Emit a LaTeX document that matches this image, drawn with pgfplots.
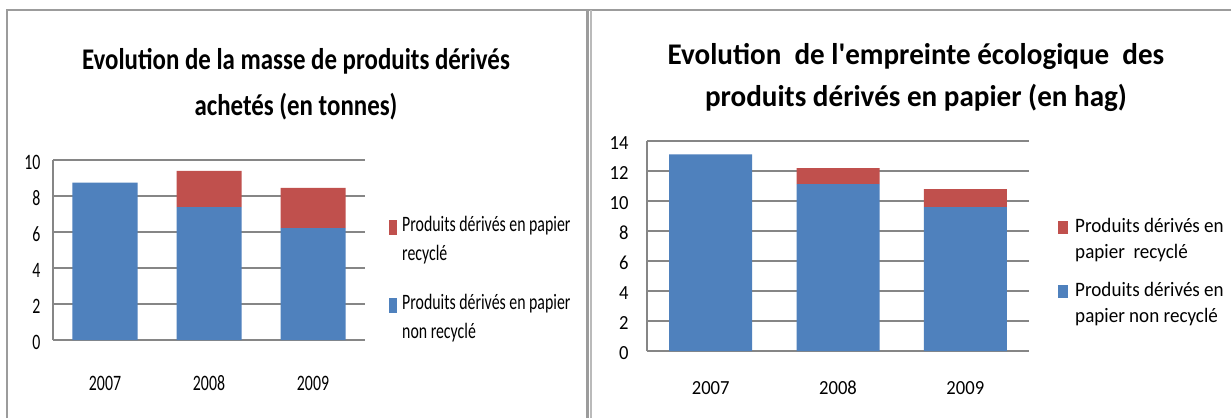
\documentclass[border=0pt]{standalone}
\usepackage{pgfplots}
\usepackage{pgfplotstable}
\pgfplotsset{compat=1.18}
\usepackage{fontspec}
\setmainfont{Carlito}
\newfontfamily\Lfont[FakeStretch=0.72]{Carlito}
\newfontfamily\Rfont[FakeStretch=0.93]{Carlito}
\newfontfamily\LTfont[FakeStretch=0.83]{Carlito}
\newfontfamily\RTfont[FakeStretch=0.97]{Carlito}
\definecolor{bblue}{HTML}{4F81BD}
\definecolor{bred}{HTML}{C0504D}
\definecolor{gridc}{HTML}{868686}
\definecolor{framec}{HTML}{9C9C9C}

\pgfplotstableread{
x nr r
0 8.75 0
1 7.38 2.01
2 6.22 2.23
}\masse
\pgfplotstableread{
x nr r
0 13.10 0
1 11.13 1.06
2 9.60 1.20
}\empreinte

\pgfplotsset{
  panel/.style={
    scale only axis,
    ybar stacked,
    ymin=0, xmin=-0.5, xmax=2.5,
    xtick={0,1,2}, xticklabels={2007,2008,2009},
    ytick distance=2,
    axis lines=left,
    axis line style={-, draw=gridc, line width=2.4pt},
    ymajorgrids, grid style={draw=gridc, line width=2.4pt},
    major tick length=0pt,
    /pgf/number format/assume math mode=true,
    xticklabel style={anchor=center},
    yticklabel style={anchor=east, yshift=-2pt},
    legend cell align=left,
    legend style={draw=none, fill=none, inner sep=0pt, anchor=north west,
      cells={align=left, anchor=west}},
  },
}

\begin{document}
\begin{tikzpicture}[x=1pt,y=1pt]
\path[use as bounding box, fill=white] (0,0) rectangle (1231,418);
% frames
\draw[framec, line width=2pt] (7,0) -- (7,408) -- (1231,408);
\draw[framec, line width=3pt] (587,0) -- (587,408);
\draw[framec!70, line width=1.5pt] (591,0) -- (591,408);

% titles
\node[anchor=base, font=\LTfont\bfseries\fontsize{30}{36}\selectfont, inner sep=0pt] at (296,348) {Evolution de la masse de produits dérivés};
\node[anchor=base, font=\LTfont\bfseries\fontsize{30}{36}\selectfont, inner sep=0pt] at (296,302) {achetés (en tonnes)};
\node[anchor=base, font=\RTfont\bfseries\fontsize{30}{36}\selectfont, inner sep=0pt] at (916,353) {Evolution \ de l'empreinte écologique \ des};
\node[anchor=base, font=\RTfont\bfseries\fontsize{30}{36}\selectfont, inner sep=0pt] at (916,311) {produits dérivés en papier (en hag)};

\begin{axis}[panel,
  at={(53pt,78pt)}, anchor=south west,
  width=312pt, height=180pt, ymax=10,
  bar width=65pt,
  tick label style={font=\Lfont\fontsize{22}{26}\selectfont},
  xticklabel style={yshift=-43pt},
  yticklabel style={xshift=-9pt},
  reverse legend,
  legend image code/.code={\path[fill,draw=none] (0pt,4pt) rectangle (8pt,19pt);},
  legend style={at={(1.077,0.70)}, font=\Lfont\fontsize{22}{29}\selectfont, row sep=28pt, column sep=3pt},
]
\addplot+[fill=bblue, draw=none] table[x=x, y=nr] {\masse};
\addplot+[fill=bred, draw=none] table[x=x, y=r] {\masse};
\legend{Produits dérivés en papier\\non recyclé, Produits dérivés en papier\\recyclé}
\end{axis}

\begin{axis}[panel,
  at={(647pt,67pt)}, anchor=south west,
  width=382pt, height=210pt, ymax=14,
  bar width=83pt,
  tick label style={font=\Rfont\fontsize{20}{24}\selectfont},
  xticklabel style={yshift=-37pt},
  yticklabel style={xshift=-15pt},
  reverse legend,
  legend image code/.code={\path[fill,draw=none] (0pt,5pt) rectangle (10pt,18pt);},
  legend style={at={(1.076,0.641)}, font=\Rfont\fontsize{20.5}{26}\selectfont, row sep=18pt, column sep=5pt},
]
\addplot+[fill=bblue, draw=none] table[x=x, y=nr] {\empreinte};
\addplot+[fill=bred, draw=none] table[x=x, y=r] {\empreinte};
\legend{Produits dérivés en\\papier non recyclé, Produits dérivés en\\papier \ recyclé}
\end{axis}
\end{tikzpicture}
\end{document}
